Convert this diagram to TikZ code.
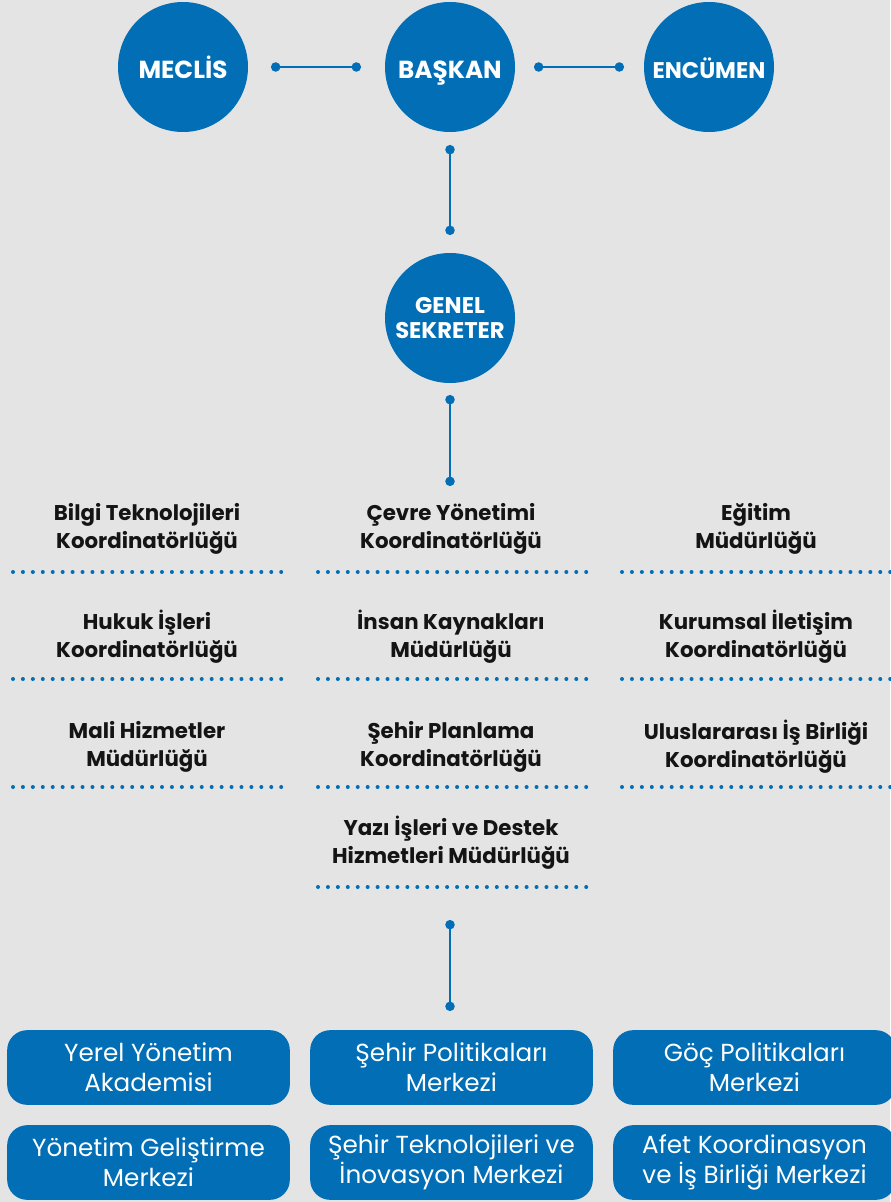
\documentclass[tikz,border=0pt]{standalone}
\usepackage{fontspec}
\setmainfont{Poppins}
\usetikzlibrary{arrows.meta}
\definecolor{bgray}{HTML}{E4E4E4}
\definecolor{mblue}{HTML}{016EB5}
\definecolor{ink}{HTML}{141414}
\tikzstyle{head} = [circle, fill=mblue, minimum size=97.5pt, inner sep=0pt, text=white, align=center, font=\bfseries\fontsize{18.5}{21}\selectfont]
\tikzstyle{smallhead} = [head, font=\bfseries\fontsize{17}{19}\selectfont]
\tikzstyle{oneline} = [text height=18pt, text depth=0pt]
\tikzstyle{link} = [draw=mblue, line width=1.9pt, {Circle[length=7pt]}-{Circle[length=7pt]}]
\tikzstyle{unit} = [align=center, text=ink, font=\bfseries\fontsize{16}{21}\selectfont]
\tikzstyle{dotrule} = [draw=mblue, line width=3pt, line cap=round, dash pattern=on 0pt off 7.45pt]
\tikzstyle{centre} = [rectangle, rounded corners=15pt, fill=mblue, text=white, minimum width=212pt, minimum height=56pt, align=center, font=\fontsize{18.5}{22.5}\selectfont]

\begin{document}
\begin{tikzpicture}[x=0.75pt, y=-0.75pt]
	\fill[bgray] (0,0) rectangle (890,1202);
	\useasboundingbox (0,0) rectangle (890,1202);
	% top level
	\node[head, oneline] (meclis) at (183,67) {MECLİS};
	\node[head, oneline] (baskan) at (450,67) {BAŞKAN};
	\node[smallhead, oneline, text height=17pt] (encumen) at (709,67) {ENCÜMEN};
	\node[smallhead] (sekreter) at (450,318) {GENEL\\SEKRETER};
	\coordinate (l1) at (271,67); \coordinate (l2) at (361,67);
	\coordinate (r1) at (534,67); \coordinate (r2) at (624,67);
	\coordinate (v1) at (450,145); \coordinate (v2) at (450,235);
	\coordinate (w1) at (450,395); \coordinate (w2) at (450,486);
	\coordinate (z1) at (450,920); \coordinate (z2) at (450,1011);
	\draw[link] (l1) -- (l2);
	\draw[link] (r1) -- (r2);
	\draw[link] (v1) -- (v2);
	\draw[link] (w1) -- (w2);
	\draw[link] (z1) -- (z2);
	% units
	\node[unit] (bilgi) at (147,529) {Bilgi Teknolojileri\\Koordinatörlüğü};
	\node[unit] (hukuk) at (147,637) {Hukuk İşleri\\Koordinatörlüğü};
	\node[unit] (mali) at (147,747) {Mali Hizmetler\\Müdürlüğü};
	\node[unit] (cevre) at (451,529) {Çevre Yönetimi\\Koordinatörlüğü};
	\node[unit] (insan) at (451,637) {İnsan Kaynakları\\Müdürlüğü};
	\node[unit] (sehir) at (451,747) {Şehir Planlama\\Koordinatörlüğü};
	\node[unit] (yazi) at (451,843) {Yazı İşleri ve Destek\\Hizmetleri Müdürlüğü};
	\node[unit] (egitim) at (756,529) {Eğitim\\Müdürlüğü};
	\node[unit] (kurumsal) at (756,637) {Kurumsal İletişim\\Koordinatörlüğü};
	\node[unit] (ulus) at (756,747) {Uluslararası İş Birliği\\Koordinatörlüğü};
	\foreach \x in {13,318,622}
		\foreach \y in {572,679,787}
			\draw[dotrule] (\x,\y) -- ++(271,0);
	\draw[dotrule] (318,887) -- ++(271,0);
	% centres
	\node[centre] (yerel) at (148.5,1067.5) {Yerel Yönetim\\Akademisi};
	\node[centre] (politika) at (451.5,1067.5) {Şehir Politikaları\\Merkezi};
	\node[centre] (goc) at (754.5,1067.5) {Göç Politikaları\\Merkezi};
	\node[centre] (gelistirme) at (148.5,1162.5) {Yönetim Geliştirme\\Merkezi};
	\node[centre] (teknoloji) at (451.5,1162.5) {Şehir Teknolojileri ve\\İnovasyon Merkezi};
	\node[centre] (afet) at (754.5,1162.5) {Afet Koordinasyon\\ve İş Birliği Merkezi};
\end{tikzpicture}
\end{document}
